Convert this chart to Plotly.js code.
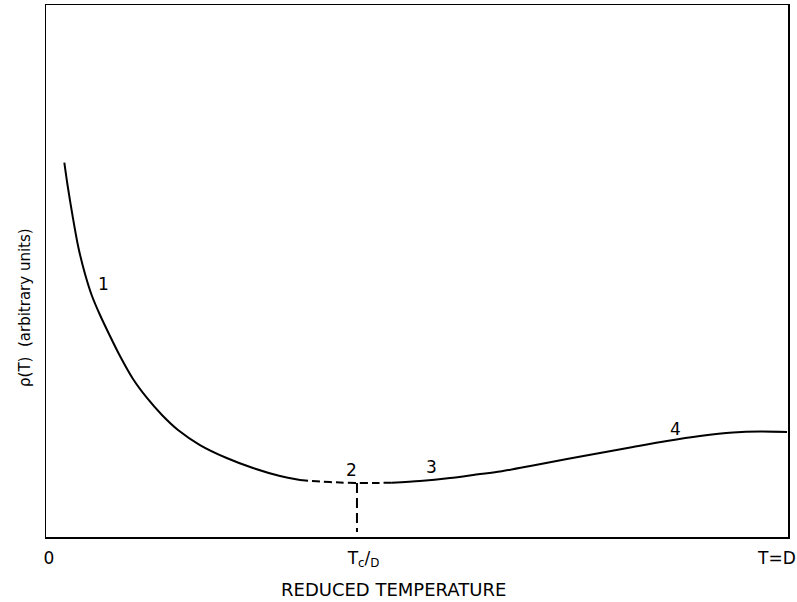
<!DOCTYPE html>
<html>
<head>
<meta charset="utf-8">
<script src="https://cdn.plot.ly/plotly-3.0.1.min.js"></script>
<style>html,body{margin:0;padding:0;background:#fff;}#chart{width:797px;height:602px;}</style>
</head>
<body>
<div id="chart"></div>
<script>
// Curve segment 1 (solid, low-temperature branch)
const seg1X = [0.0247,0.0290,0.0360,0.0435,0.0526,0.0620,0.0728,0.0849,0.0997,0.1173,0.1361,0.1563,0.1779,0.2075,0.2435,0.2790,0.3154,0.3423];
const seg1Y = [0.7036,0.6617,0.6021,0.5451,0.4944,0.4530,0.4173,0.3816,0.3402,0.2970,0.2613,0.2293,0.2011,0.1729,0.1485,0.1297,0.1147,0.1071];
// Curve segment 2 (dashed, around Tc)
const seg2X = [0.3423,0.3693,0.3962,0.4191,0.4434,0.4663];
const seg2Y = [0.1071,0.1043,0.1024,0.1015,0.1015,0.1021];
// Curve segment 3 (solid, high-temperature branch)
const seg3X = [0.4663,0.5040,0.5445,0.5849,0.6119,0.6563,0.7022,0.7466,0.7911,0.8369,0.8814,0.9259,0.9623,0.9987];
const seg3Y = [0.1021,0.1053,0.1109,0.1184,0.1231,0.1344,0.1466,0.1579,0.1692,0.1805,0.1898,0.1964,0.1983,0.1974];
// Vertical dashed marker at Tc/D
const tcX = [0.4191,0.4191];
const tcY = [0.1015,0.0094];
// Region labels
const labelX = [0.078,0.412,0.520,0.849];
const labelY = [0.476,0.126,0.132,0.203];
const labelText = ['1','2','3','4'];
// Tick labels
const tickVals = [0.004,0.428,0.985];
const tickText = ['0','T<sub>c</sub>/<sub>D</sub>','T=D'];
// Axis titles
const xTitle = 'REDUCED TEMPERATURE';
const yTitle = 'ρ(T)  (arbitrary units)';

const font = 'DejaVu Sans, Arial, sans-serif';

const traces = [
  {x:seg1X, y:seg1Y, mode:'lines', line:{color:'#000', width:2, shape:'spline', smoothing:0.8}, hoverinfo:'skip'},
  {x:seg2X, y:seg2Y, mode:'lines', line:{color:'#000', width:2, dash:'8px,4px', shape:'spline', smoothing:0.8}, hoverinfo:'skip'},
  {x:seg3X, y:seg3Y, mode:'lines', line:{color:'#000', width:2, shape:'spline', smoothing:0.8}, hoverinfo:'skip'},
  {x:tcX, y:tcY, mode:'lines', line:{color:'#000', width:2, dash:'10px,5px'}, hoverinfo:'skip'}
];

const annotations = labelText.map((t,i)=>({
  x:labelX[i], y:labelY[i], xref:'x', yref:'y', text:t, showarrow:false,
  font:{family:font, size:17, color:'#000'}
}));
annotations.push({
  x:0.469, y:-0.0996, xref:'paper', yref:'paper', text:xTitle, showarrow:false,
  xanchor:'center', yanchor:'middle', font:{family:font, size:18, color:'#000'}
});
annotations.push({
  x:-0.0283, y:0.4305, xref:'paper', yref:'paper', text:yTitle, showarrow:false,
  textangle:-90, xanchor:'center', yanchor:'middle', font:{family:font, size:15, color:'#000'}
});

const layout = {
  width:797, height:602,
  margin:{l:46, r:9, t:5, b:65},
  paper_bgcolor:'#fff', plot_bgcolor:'#fff',
  showlegend:false,
  font:{family:font, color:'#000'},
  xaxis:{
    range:[0,1], showgrid:false, zeroline:false,
    showline:true, linecolor:'#000', linewidth:1.5, mirror:true,
    ticks:'', tickvals:tickVals, ticktext:tickText,
    ticklabeloverflow:'allow', ticklabelstandoff:5,
    tickfont:{family:font, size:17, color:'#000'}
  },
  yaxis:{
    range:[0,1], showgrid:false, zeroline:false,
    showline:true, linecolor:'#000', linewidth:1.5, mirror:true,
    ticks:'', showticklabels:false
  },
  annotations:annotations
};

Plotly.newPlot('chart', traces, layout, {staticPlot:true, displayModeBar:false});
</script>
</body>
</html>
